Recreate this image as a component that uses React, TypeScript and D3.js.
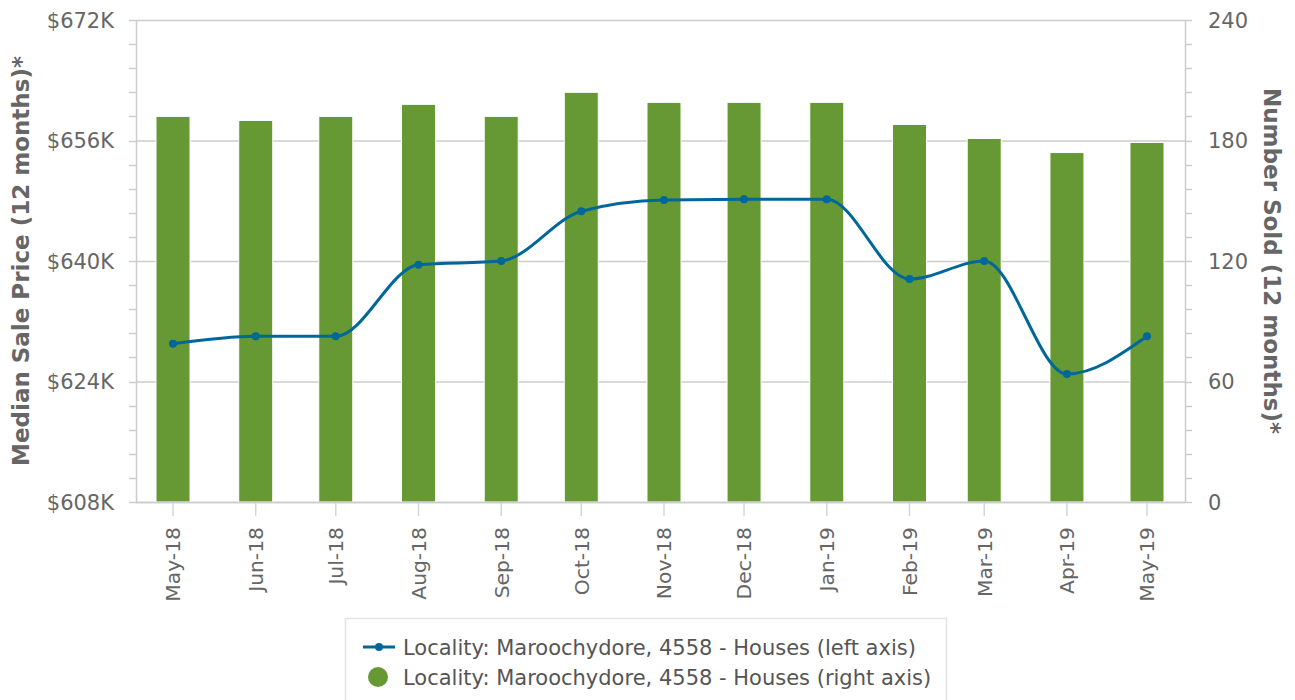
import React from "react";
import * as d3 from "d3";

const months = ["2018-05-01","2018-06-01","2018-07-01","2018-08-01","2018-09-01","2018-10-01","2018-11-01","2018-12-01","2019-01-01","2019-02-01","2019-03-01","2019-04-01","2019-05-01"];
const monthLabels = ["May-18","Jun-18","Jul-18","Aug-18","Sep-18","Oct-18","Nov-18","Dec-18","Jan-19","Feb-19","Mar-19","Apr-19","May-19"];
const medianPrice = [629000, 630000, 630000, 639500, 640000, 646600, 648100, 648200, 648200, 637600, 640000, 625000, 630000];
const numberSold = [192, 190, 192, 198, 192, 204, 199, 199, 199, 188, 181, 174, 179];
const leftTicks = [608000, 624000, 640000, 656000, 672000];
const rightTicks = [0, 60, 120, 180, 240];
const lineLabel = "Locality: Maroochydore, 4558 - Houses (left axis)";
const barLabel = "Locality: Maroochydore, 4558 - Houses (right axis)";
const leftTitle = "Median Sale Price (12 months)*";
const rightTitle = "Number Sold (12 months)*";

const W = 1295, H = 700;
const PL = 136, PR = 1185, PT = 20, PB = 502;
const FONT = "'DejaVu Sans', sans-serif";
const TXT = "#666666";
const BAR = "#669933";
const LINE = "#00679a";
const FS = 21;

export default function App() {
  const dates = months.map((m) => new Date(m + "T00:00:00Z"));
  const x = d3.scaleUtc().domain([dates[0], dates[dates.length - 1]]).range([173, 1147]);
  const yL = d3.scaleLinear().domain([608000, 672000]).range([PB, PT]);
  const yR = d3.scaleLinear().domain([0, 240]).range([PB, PT]);
  const minorL = d3.range(608000, 672001, 3200);
  const minorR = d3.range(0, 241, 12);
  const barW = 34;
  const pts: [number, number][] = dates.map((d, i) => [x(d), yL(medianPrice[i])]);
  const lineGen = d3.line().curve(d3.curveMonotoneX);
  const fmt = (v: number) => "$" + Math.round(v / 1000) + "K";

  return (
    <svg width={W} height={H} style={{ position: "absolute", left: 0, top: 0, background: "#fff" }} fontFamily={FONT}>
      {leftTicks.map((t) => (
        <line key={"g" + t} x1={PL} x2={PR} y1={yL(t) + 0.5} y2={yL(t) + 0.5} stroke="#cccccc" strokeWidth={1.5} />
      ))}
      {minorL.map((t) => (
        <line key={"ml" + t} x1={PL - 7} x2={PL} y1={Math.round(yL(t)) + 0.5} y2={Math.round(yL(t)) + 0.5} stroke="#cccccc" strokeWidth={1.5} />
      ))}
      {minorR.map((t) => (
        <line key={"mr" + t} x1={PR} x2={PR + 7} y1={Math.round(yR(t)) + 0.5} y2={Math.round(yR(t)) + 0.5} stroke="#cccccc" strokeWidth={1.5} />
      ))}
      <line x1={PL + 0.5} x2={PL + 0.5} y1={PT} y2={PB} stroke="#cccccc" strokeWidth={1.5} />
      <line x1={PR + 0.5} x2={PR + 0.5} y1={PT} y2={PB} stroke="#cccccc" strokeWidth={1.5} />
      {dates.map((d, i) => (
        <rect key={"b" + i} x={x(d) - barW / 2} y={yR(numberSold[i])} width={barW} height={PB - yR(numberSold[i])} fill={BAR} stroke="#ffffff" strokeWidth={1} />
      ))}
      <line x1={PL} x2={PR} y1={PB + 0.5} y2={PB + 0.5} stroke="#cccccc" strokeWidth={1.5} />
      {dates.map((d, i) => (
        <line key={"xt" + i} x1={x(d)} x2={x(d)} y1={PB + 1} y2={PB + 14} stroke="#ccd6eb" strokeWidth={1.5} />
      ))}
      {dates.map((d, i) => (
        <text key={"xl" + i} transform={`translate(${x(d)},${527}) rotate(-90)`} textAnchor="end" dy="0.36em" fontSize={20.3} fill={TXT}>
          {monthLabels[i]}
        </text>
      ))}
      <path d={lineGen(pts) || ""} fill="none" stroke={LINE} strokeWidth={3} />
      {pts.map((p, i) => (
        <circle key={"p" + i} cx={p[0]} cy={p[1]} r={4} fill={LINE} />
      ))}
      {leftTicks.map((t) => (
        <text key={"ll" + t} x={114} y={yL(t)} dy="0.36em" textAnchor="end" fontSize={FS} fill={TXT}>
          {fmt(t)}
        </text>
      ))}
      {rightTicks.map((t) => (
        <text key={"rl" + t} x={1208} y={yR(t)} dy="0.36em" textAnchor="start" fontSize={FS} fill={TXT}>
          {t}
        </text>
      ))}
      <text transform={`translate(21,${(PT + PB) / 2}) rotate(-90)`} textAnchor="middle" dy="0.36em" fontSize={23} fontWeight="bold" fill={TXT}>
        {leftTitle}
      </text>
      <text transform={`translate(1272,${(PT + PB) / 2}) rotate(90)`} textAnchor="middle" dy="0.36em" fontSize={23} fontWeight="bold" fill={TXT}>
        {rightTitle}
      </text>
      <rect x={345.5} y={618.5} width={601} height={100} fill="#ffffff" stroke="#e3e3e3" strokeWidth={1.5} />
      <line x1={363} x2={395} y1={647} y2={647} stroke={LINE} strokeWidth={3} />
      <circle cx={379} cy={647} r={4} fill={LINE} />
      <text x={403} y={647} dy="0.36em" fontSize={FS} fill="#555555">{lineLabel}</text>
      <circle cx={378} cy={677} r={10} fill={BAR} />
      <text x={403} y={677} dy="0.36em" fontSize={FS} fill="#555555">{barLabel}</text>
    </svg>
  );
}
